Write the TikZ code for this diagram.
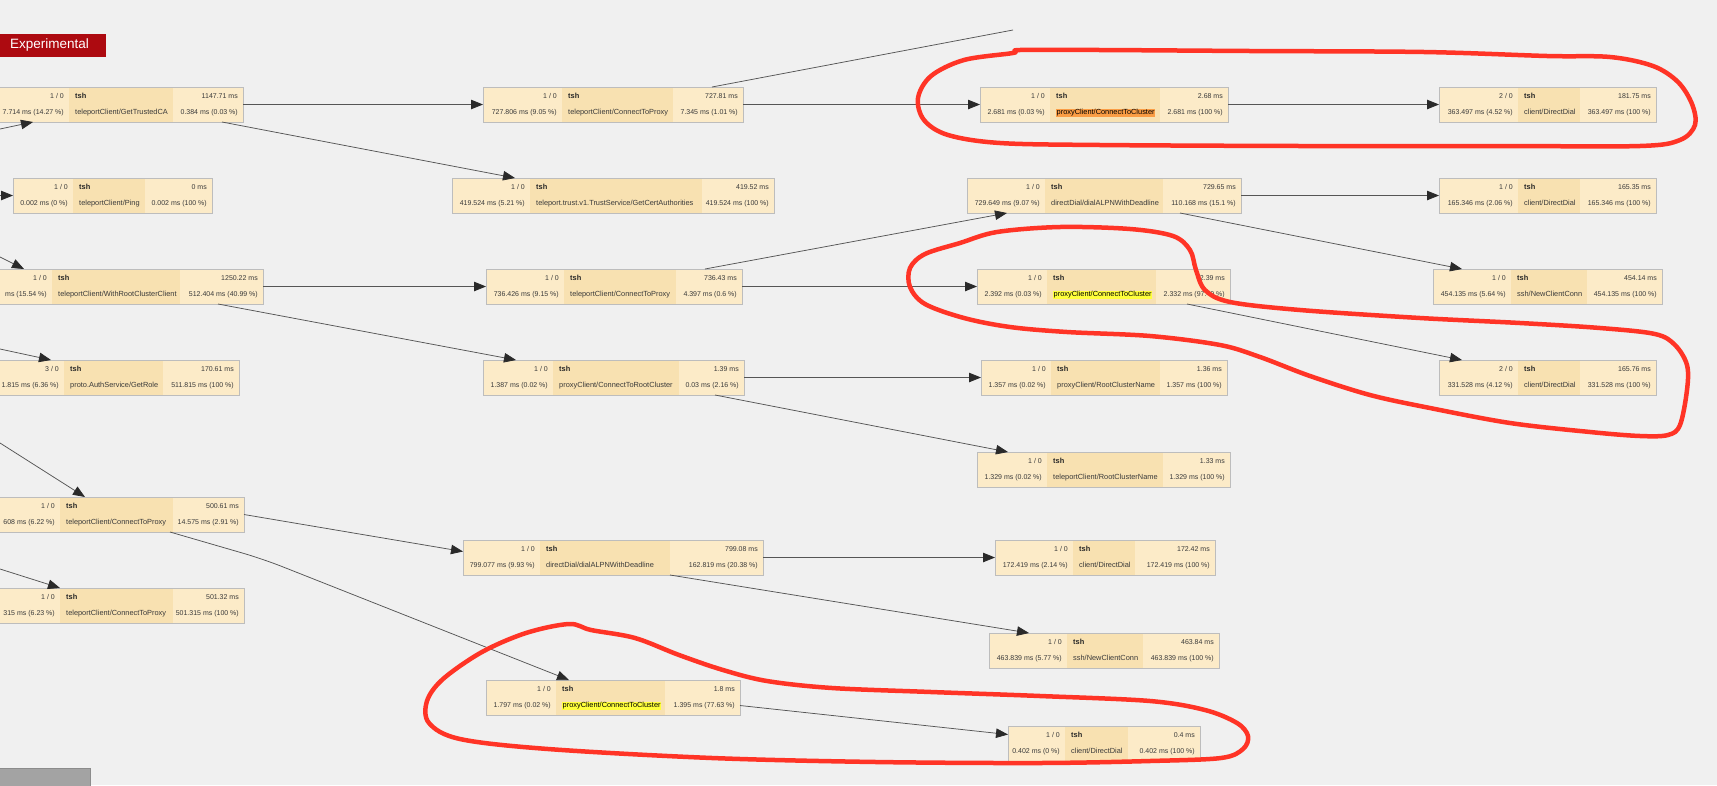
\documentclass[tikz,border=0pt]{standalone}
\usepackage{fontspec}
\setmainfont{Liberation Sans}
\usetikzlibrary{arrows.meta,calc}
\definecolor{bgc}{HTML}{F0F0F0}
\definecolor{cellside}{HTML}{FCEBC8}
\definecolor{cellmid}{HTML}{F8E1B1}
\definecolor{framec}{HTML}{BDBDBD}
\definecolor{edgec}{HTML}{555555}
\definecolor{tipc}{HTML}{2A2A2A}
\definecolor{txtc}{HTML}{3A3A3A}
\definecolor{redmark}{HTML}{FF3426}
\definecolor{badgec}{HTML}{AD0A10}
\definecolor{hlorange}{HTML}{FA9D45}
\definecolor{hlyellow}{HTML}{FFFF3C}
\definecolor{grayblk}{HTML}{A3A3A3}

\tikzset{
  boxframe/.style={draw=framec, line width=0.9pt, inner sep=0pt, outer sep=0pt},
  numtxt/.style={font=\fontsize{7}{8}\selectfont, text=txtc, inner sep=0pt, text height=5.2pt, text depth=1.5pt},
  nametxt/.style={font=\fontsize{7.4}{8}\selectfont, text=txtc, inner sep=0pt, text height=5.3pt, text depth=1.5pt},
  svctxt/.style={nametxt, font=\fontsize{7.4}{8}\selectfont\bfseries, text=black!85},
  hlo/.style={fill=hlorange, text=black, inner xsep=0.5pt, inner ysep=0.6pt},
  hly/.style={fill=hlyellow, text=black, inner xsep=0.5pt, inner ysep=0.6pt},
  edge/.style={draw=edgec, line width=0.75pt, -{Triangle[length=12pt,width=9.5pt,color=tipc]}},
  plainedge/.style={draw=edgec, line width=0.75pt},
  redloop/.style={draw=redmark, line width=4.5pt, line cap=round, line join=round},
}

\newcommand\tnbox[6]{%
  \def\tnX{#2}\def\tnA{#3}\def\tnB{#4}\def\tnC{#5}\def\tnY{#6}\def\tnN{#1}%
  \fill[cellside] (#2,#6) rectangle (#3,#6+35);
  \fill[cellmid] (#3,#6) rectangle (#4,#6+35);
  \fill[cellside] (#4,#6) rectangle (#5,#6+35);
  \node[boxframe, anchor=north west, minimum width={(#5-(#2))*1pt}, minimum height=35pt] (#1) at (#2,#6) {};
}
\newcommand\tntext[7]{%
  \node[numtxt, anchor=east] (\tnN-a) at (\tnA-5,\tnY+9.5) {#1};
  \node[svctxt, anchor=west] (\tnN-b) at (\tnA+6,\tnY+9.5) {#2};
  \node[numtxt, anchor=east] (\tnN-c) at (\tnC-5,\tnY+9.5) {#3};
  \node[numtxt, anchor=east] (\tnN-d) at (\tnA-5,\tnY+26) {#4};
  \node[nametxt, anchor=west, #7] (\tnN-e) at (\tnA+6,\tnY+26) {#5};
  \node[numtxt, anchor=east] (\tnN-f) at (\tnC-5,\tnY+26) {#6};
}

\begin{document}
\begin{tikzpicture}[x=1pt, y=-1pt]
\useasboundingbox (0,0) rectangle (1717,785);
\fill[bgc] (0,0) rectangle (1717,785);
\clip (0,0) rectangle (1717,785);

% badge
\node[fill=badgec, anchor=north west, minimum width=106pt, minimum height=23pt, inner sep=0pt] (badge) at (0,34) {};
\node[anchor=west, text=white, font=\fontsize{13.5}{16}\selectfont, inner sep=0pt] (badgetext) at (10,45.5) {Experimental};

% nodes
\tnbox{A}{-40}{69}{173}{243}{87}
\tntext{1 / 0}{tsh}{1147.71 ms}{7.714 ms (14.27 \%)}{teleportClient/GetTrustedCA}{0.384 ms (0.03 \%)}{}
\tnbox{B}{483}{562}{673}{743}{87}
\tntext{1 / 0}{tsh}{727.81 ms}{727.806 ms (9.05 \%)}{teleportClient/ConnectToProxy}{7.345 ms (1.01 \%)}{}
\tnbox{C}{980}{1050}{1160}{1228}{87}
\tntext{1 / 0}{tsh}{2.68 ms}{2.681 ms (0.03 \%)}{proxyClient/ConnectToCluster}{2.681 ms (100 \%)}{hlo}
\tnbox{D}{1439}{1518}{1580}{1656}{87}
\tntext{2 / 0}{tsh}{181.75 ms}{363.497 ms (4.52 \%)}{client/DirectDial}{363.497 ms (100 \%)}{}

\tnbox{E}{13}{73}{145}{212}{178}
\tntext{1 / 0}{tsh}{0 ms}{0.002 ms (0 \%)}{teleportClient/Ping}{0.002 ms (100 \%)}{}
\tnbox{F}{452}{530}{702}{774}{178}
\tntext{1 / 0}{tsh}{419.52 ms}{419.524 ms (5.21 \%)}{teleport.trust.v1.TrustService/GetCertAuthorities}{419.524 ms (100 \%)}{}
\tnbox{G}{967}{1045}{1163}{1241}{178}
\tntext{1 / 0}{tsh}{729.65 ms}{729.649 ms (9.07 \%)}{directDial/dialALPNWithDeadline}{110.168 ms (15.1 \%)}{}
\tnbox{H}{1439}{1518}{1580}{1656}{178}
\tntext{1 / 0}{tsh}{165.35 ms}{165.346 ms (2.06 \%)}{client/DirectDial}{165.346 ms (100 \%)}{}

\tnbox{I}{-40}{52}{180}{263}{269}
\tntext{1 / 0}{tsh}{1250.22 ms}{ms (15.54 \%)}{teleportClient/WithRootClusterClient}{512.404 ms (40.99 \%)}{}
\tnbox{J}{486}{564}{676}{742}{269}
\tntext{1 / 0}{tsh}{736.43 ms}{736.426 ms (9.15 \%)}{teleportClient/ConnectToProxy}{4.397 ms (0.6 \%)}{}
\tnbox{K}{977}{1047}{1156}{1230}{269}
\tntext{1 / 0}{tsh}{2.39 ms}{2.392 ms (0.03 \%)}{proxyClient/ConnectToCluster}{2.332 ms (97.49 \%)}{hly}
\tnbox{L}{1433}{1511}{1587}{1662}{269}
\tntext{1 / 0}{tsh}{454.14 ms}{454.135 ms (5.64 \%)}{ssh/NewClientConn}{454.135 ms (100 \%)}{}

\tnbox{M}{-40}{64}{163}{239}{360}
\tntext{3 / 0}{tsh}{170.61 ms}{1.815 ms (6.36 \%)}{proto.AuthService/GetRole}{511.815 ms (100 \%)}{}
\tnbox{N}{483}{553}{679}{744}{360}
\tntext{1 / 0}{tsh}{1.39 ms}{1.387 ms (0.02 \%)}{proxyClient/ConnectToRootCluster}{0.03 ms (2.16 \%)}{}
\tnbox{O}{981}{1051}{1160}{1227}{360}
\tntext{1 / 0}{tsh}{1.36 ms}{1.357 ms (0.02 \%)}{proxyClient/RootClusterName}{1.357 ms (100 \%)}{}
\tnbox{P}{1439}{1518}{1580}{1656}{360}
\tntext{2 / 0}{tsh}{165.76 ms}{331.528 ms (4.12 \%)}{client/DirectDial}{331.528 ms (100 \%)}{}

\tnbox{Q}{977}{1047}{1163}{1230}{452}
\tntext{1 / 0}{tsh}{1.33 ms}{1.329 ms (0.02 \%)}{teleportClient/RootClusterName}{1.329 ms (100 \%)}{}

\tnbox{R}{-40}{60}{173}{244}{497}
\tntext{1 / 0}{tsh}{500.61 ms}{608 ms (6.22 \%)}{teleportClient/ConnectToProxy}{14.575 ms (2.91 \%)}{}
\tnbox{S}{463}{540}{670}{763}{540}
\tntext{1 / 0}{tsh}{799.08 ms}{799.077 ms (9.93 \%)}{directDial/dialALPNWithDeadline}{162.819 ms (20.38 \%)}{}
\tnbox{T}{995}{1073}{1135}{1215}{540}
\tntext{1 / 0}{tsh}{172.42 ms}{172.419 ms (2.14 \%)}{client/DirectDial}{172.419 ms (100 \%)}{}

\tnbox{U}{-40}{60}{173}{244}{588}
\tntext{1 / 0}{tsh}{501.32 ms}{315 ms (6.23 \%)}{teleportClient/ConnectToProxy}{501.315 ms (100 \%)}{}
\tnbox{V}{989}{1067}{1143}{1219}{633}
\tntext{1 / 0}{tsh}{463.84 ms}{463.839 ms (5.77 \%)}{ssh/NewClientConn}{463.839 ms (100 \%)}{}

\tnbox{W}{486}{556}{665}{740}{680}
\tntext{1 / 0}{tsh}{1.8 ms}{1.797 ms (0.02 \%)}{proxyClient/ConnectToCluster}{1.395 ms (77.63 \%)}{hly}
\tnbox{X}{1008}{1065}{1128}{1200}{726}
\tntext{1 / 0}{tsh}{0.4 ms}{0.402 ms (0 \%)}{client/DirectDial}{0.402 ms (100 \%)}{}

% free ends
\coordinate (inA) at (0,129);
\coordinate (inE) at (0,195.5);
\coordinate (inI) at (0,257);
\coordinate (inM) at (0,349);
\coordinate (inR) at (0,443);
\coordinate (inU) at (0,569);
\coordinate (outB) at (1013,30);
\coordinate (bendRW) at (263,559);

% edges
\draw[edge] (inA) -- ($(A.south west)+(73,0)$);
\draw[edge] (A.east) -- (B.west);
\draw[edge] ($(A.south west)+(262,0)$) -- ($(F.north west)+(63,0)$);
\draw[plainedge] ($(B.north west)+(229,0)$) -- (outB);
\draw[edge] (B.east) -- (C.west);
\draw[edge] (C.east) -- (D.west);
\draw[edge] (inE) -- (E.west);
\draw[edge] (G.east) -- (H.west);
\draw[edge] ($(G.south west)+(213,0)$) -- ($(L.north west)+(29,0)$);
\draw[edge] ($(J.north west)+(219,0)$) -- ($(G.south west)+(40,0)$);
\draw[edge] (inI) -- ($(I.north west)+(64,0)$);
\draw[edge] (I.east) -- (J.west);
\draw[edge] ($(I.south west)+(258,0)$) -- ($(N.north west)+(33,0)$);
\draw[edge] (J.east) -- (K.west);
\draw[edge] ($(K.south west)+(210,0)$) -- ($(P.north west)+(23,0)$);
\draw[edge] (inM) -- ($(M.north west)+(91,0)$);
\draw[edge] (N.east) -- (O.west);
\draw[edge] ($(N.south west)+(232,0)$) -- ($(Q.north west)+(31,0)$);
\draw[edge] (inR) -- ($(R.north west)+(125,0)$);
\draw[edge] (inU) -- ($(U.north west)+(100,0)$);
\draw[edge] (R.east) -- ($(S.west)+(0,-6)$);
\draw[edge, rounded corners=20pt] ($(R.south west)+(210,0)$) -- (bendRW) -- ($(W.north west)+(83,0)$);
\draw[edge] (S.east) -- (T.west);
\draw[edge] ($(S.south west)+(207,0)$) -- ($(V.north west)+(40,0)$);
\draw[edge] ($(W.east)+(0,8)$) -- ($(X.west)+(0,-9)$);

% bottom-left gray block
\fill[grayblk] (0,768) rectangle (90,786);
\draw[black!45, line width=0.8pt] (0,768) -- (90,768) -- (90,786);

% red hand-drawn marks
\draw[redloop] plot[smooth cycle, tension=0.55] coordinates {
 (1013,53) (964,60) (931,76) (918,98) (924,120) (948,135) (1000,143)
 (1100,145) (1300,146) (1500,146) (1640,146) (1680,140) (1695,125)
 (1692,104) (1678,82) (1653,66) (1610,57) (1547,56) (1424,52) (1250,51)
 (1100,50) (1020,50)};
\draw[redloop] plot[smooth cycle, tension=0.55] coordinates {
 (997,232) (1060,227) (1130,229) (1173,236) (1190,250) (1196,270) (1205,290)
 (1230,302) (1300,310) (1420,318) (1520,323) (1600,328) (1655,334) (1675,345)
 (1687,365) (1687,390) (1680,425) (1668,435) (1640,436) (1590,432) (1510,423)
 (1430,408) (1370,395) (1310,376) (1260,357) (1220,345) (1150,336) (1067,332)
 (1010,327) (964,318) (925,304) (910,287) (910,268) (925,254) (960,243)};
\draw[redloop] plot[smooth cycle, tension=0.55] coordinates {
 (569,624) (591,630) (635,638) (679,655) (723,670) (767,681) (832,688)
 (931,692) (1040,696) (1150,701) (1205,710) (1237,723) (1248,736) (1243,749)
 (1221,758) (1150,761) (1040,763) (876,762) (712,758) (548,749) (460,739)
 (429,723) (427,701) (443,679) (482,652) (526,633)};
\end{tikzpicture}
\end{document}
